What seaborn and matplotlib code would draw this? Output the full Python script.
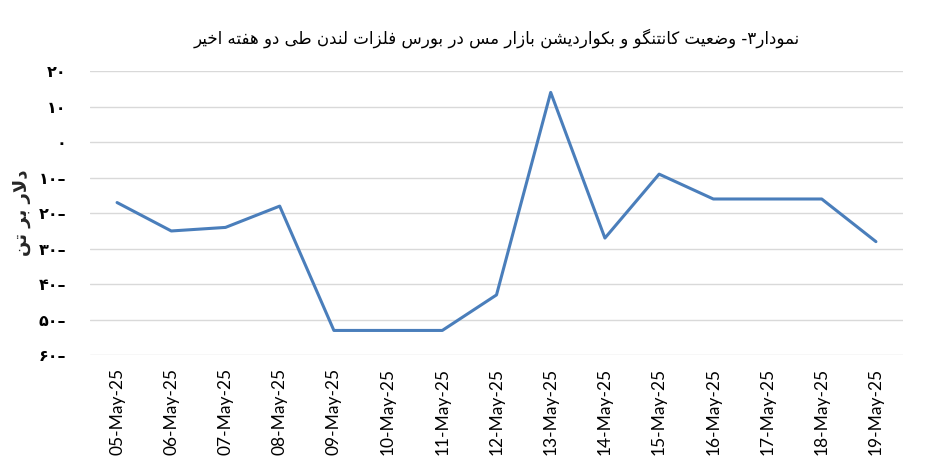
import numpy as np
import pandas as pd
import matplotlib
matplotlib.use("Agg")
import matplotlib.pyplot as plt
import seaborn as sns

sns.set_theme(style="whitegrid")
plt.rcParams['font.family'] = ['DejaVu Sans']
plt.rcParams['text.color'] = 'black'

# data
dates = ["05-May-25", "06-May-25", "07-May-25", "08-May-25", "09-May-25",
         "10-May-25", "11-May-25", "12-May-25", "13-May-25", "14-May-25",
         "15-May-25", "16-May-25", "17-May-25", "18-May-25", "19-May-25"]
spread = [-17, -25, -24, -18, -53, -53, -53, -43, 14, -27, -9, -16, -16, -16, -28]
ytick_values = [20, 10, 0, -10, -20, -30, -40, -50, -60]

title_text = "نمودار۳- وضعیت کانتنگو و بکواردیشن بازار مس در بورس فلزات لندن طی دو هفته اخیر"
ylabel_text = "دلار بر تن"

# contextual forms: (isolated, final, initial, medial); two entries = joins right only
FORMS = {
    'ا': (0xFE8D, 0xFE8E),
    'ب': (0xFE8F, 0xFE90, 0xFE91, 0xFE92),
    'پ': (0xFB56, 0xFB57, 0xFB58, 0xFB59),
    'ت': (0xFE95, 0xFE96, 0xFE97, 0xFE98),
    'ث': (0xFE99, 0xFE9A, 0xFE9B, 0xFE9C),
    'ج': (0xFE9D, 0xFE9E, 0xFE9F, 0xFEA0),
    'چ': (0xFB7A, 0xFB7B, 0xFB7C, 0xFB7D),
    'ح': (0xFEA1, 0xFEA2, 0xFEA3, 0xFEA4),
    'خ': (0xFEA5, 0xFEA6, 0xFEA7, 0xFEA8),
    'د': (0xFEA9, 0xFEAA),
    'ذ': (0xFEAB, 0xFEAC),
    'ر': (0xFEAD, 0xFEAE),
    'ز': (0xFEAF, 0xFEB0),
    'ژ': (0xFB8A, 0xFB8B),
    'س': (0xFEB1, 0xFEB2, 0xFEB3, 0xFEB4),
    'ش': (0xFEB5, 0xFEB6, 0xFEB7, 0xFEB8),
    'ص': (0xFEB9, 0xFEBA, 0xFEBB, 0xFEBC),
    'ض': (0xFEBD, 0xFEBE, 0xFEBF, 0xFEC0),
    'ط': (0xFEC1, 0xFEC2, 0xFEC3, 0xFEC4),
    'ظ': (0xFEC5, 0xFEC6, 0xFEC7, 0xFEC8),
    'ع': (0xFEC9, 0xFECA, 0xFECB, 0xFECC),
    'غ': (0xFECD, 0xFECE, 0xFECF, 0xFED0),
    'ف': (0xFED1, 0xFED2, 0xFED3, 0xFED4),
    'ق': (0xFED5, 0xFED6, 0xFED7, 0xFED8),
    'ک': (0xFB8E, 0xFB8F, 0xFB90, 0xFB91),
    'گ': (0xFB92, 0xFB93, 0xFB94, 0xFB95),
    'ل': (0xFEDD, 0xFEDE, 0xFEDF, 0xFEE0),
    'م': (0xFEE1, 0xFEE2, 0xFEE3, 0xFEE4),
    'ن': (0xFEE5, 0xFEE6, 0xFEE7, 0xFEE8),
    'و': (0xFEED, 0xFEEE),
    'ه': (0xFEE9, 0xFEEA, 0xFEEB, 0xFEEC),
    'ی': (0xFBFC, 0xFBFD, 0xFBFE, 0xFBFF),
}


def shape_rtl(text):
    # join letters by hand and flip the order, matplotlib has no bidi support
    out = []
    i = 0
    while i < len(text):
        c = text[i]
        if c not in FORMS:
            out.append(c)
            i += 1
            continue
        prev = text[i - 1] if i > 0 else ''
        nxt = text[i + 1] if i + 1 < len(text) else ''
        join_prev = prev in FORMS and len(FORMS[prev]) == 4
        if c == 'ل' and nxt == 'ا':
            out.append(chr(0xFEFC if join_prev else 0xFEFB))
            i += 2
            continue
        forms = FORMS[c]
        join_next = len(forms) == 4 and nxt in FORMS
        if join_prev and join_next:
            out.append(chr(forms[3]))
        elif join_prev:
            out.append(chr(forms[1]))
        elif join_next:
            out.append(chr(forms[2]))
        else:
            out.append(chr(forms[0]))
        i += 1
    return ''.join(out)[::-1]


def fa_number(v):
    digits = str(abs(v)).translate(str.maketrans("0123456789", "۰۱۲۳۴۵۶۷۸۹"))
    return digits + ("–" if v < 0 else "")


df = pd.DataFrame({"Date": dates, "Spread": spread})

fig = plt.figure(figsize=(9.45, 4.74), dpi=100)
ax = fig.add_axes([0.0952, 0.2504, 0.8604, 0.5996])

sns.lineplot(data=df, x="Date", y="Spread", ax=ax, color="#4a7ebb",
             linewidth=2.2, sort=False)

ax.set_xlim(-0.5, len(dates) - 0.5)
ax.set_ylim(-60, 20)
ax.set_yticks(ytick_values)
ax.set_yticklabels([fa_number(v) for v in ytick_values], fontsize=11.5,
                   fontweight="bold")
ax.set_xticks(range(len(dates)))
ax.set_xticklabels(dates, rotation=90, fontsize=12.5, family=["Lato"])
ax.tick_params(axis="y", length=0, pad=17, colors="#000000")
ax.tick_params(axis="x", length=0, pad=9, colors="#000000")

ax.grid(axis="y", color="#d9d9d9", linewidth=1)
ax.grid(axis="x", visible=False)
for s in ax.spines.values():
    s.set_visible(False)

ax.set_xlabel("")
ax.set_ylabel(shape_rtl(ylabel_text), fontsize=13, fontweight="bold")
ax.yaxis.set_label_coords(-0.072, 0.5)
ax.set_title(shape_rtl(title_text), fontsize=12, pad=20)

fig.savefig("out.png", dpi=100)
